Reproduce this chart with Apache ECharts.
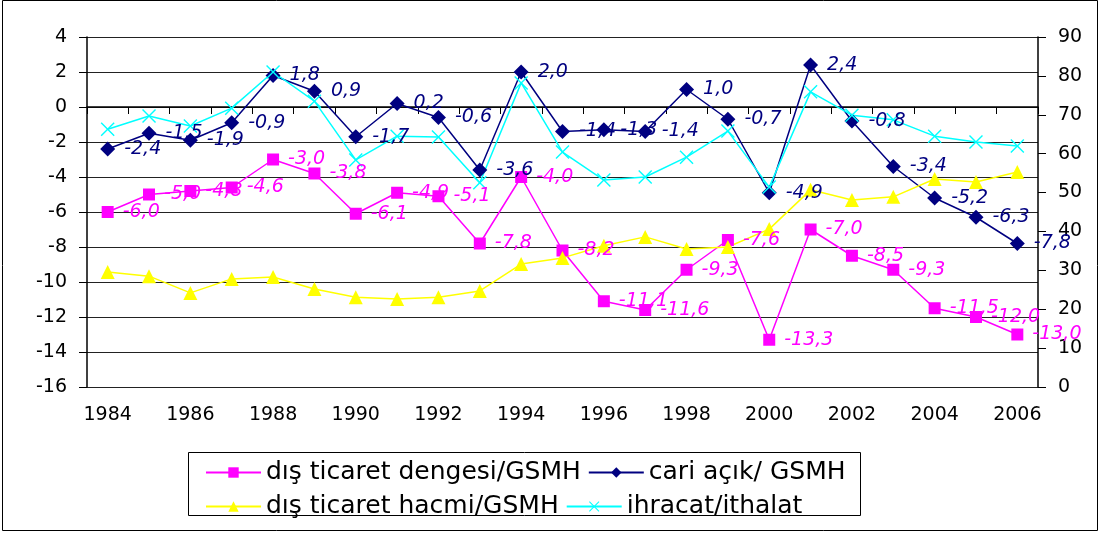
<!DOCTYPE html>
<html><head><meta charset="utf-8">
<script src="https://cdn.jsdelivr.net/npm/echarts@6/dist/echarts.min.js"></script>
<style>html,body{margin:0;padding:0;background:#fff}#c{width:1101px;height:534px}</style>
</head><body><div id="c"></div>
<script>
const years = ['1984','1985','1986','1987','1988','1989','1990','1991','1992','1993','1994','1995','1996','1997','1998','1999','2000','2001','2002','2003','2004','2005','2006'];
const disTicaretDengesi = [-6.0,-5.0,-4.8,-4.6,-3.0,-3.8,-6.1,-4.9,-5.1,-7.8,-4.0,-8.2,-11.1,-11.6,-9.3,-7.6,-13.3,-7.0,-8.5,-9.3,-11.5,-12.0,-13.0];
const cariAcik = [-2.4,-1.5,-1.9,-0.9,1.8,0.9,-1.7,0.2,-0.6,-3.6,2.0,-1.4,-1.3,-1.4,1.0,-0.7,-4.9,2.4,-0.8,-3.4,-5.2,-6.3,-7.8];
const disTicaretHacmi = [29.6,28.5,24.2,27.8,28.3,25.2,23.1,22.6,23.1,24.7,31.6,33.2,36.3,38.6,35.5,36.0,40.6,50.7,48.1,48.9,53.5,52.7,55.3];
const ihracatIthalat = [66.3,69.7,67.1,71.7,81.0,73.5,58.4,64.5,64.3,52.5,78.2,60.4,53.2,54.0,59.1,65.8,51.4,75.9,69.9,68.7,64.5,63.0,62.0];
const seriesNames = ['dış ticaret dengesi/GSMH','cari açık/ GSMH','dış ticaret hacmi/GSMH','ihracat/ithalat'];

const FONT = '"DejaVu Sans", Verdana, sans-serif';
const fmt = p => p.value.toFixed(1).replace('.', ',');
const xPath = 'path://M0,1L1,0L7,6L13,0L14,1L8,7L14,13L13,14L7,8L1,14L0,13L6,7Z';

const chart = echarts.init(document.getElementById('c'), null, {renderer:'canvas'});
chart.setOption({
  animation:false,
  backgroundColor:'#fff',
  textStyle:{fontFamily:FONT},
  grid:{left:87,right:63,top:37,bottom:147},
  xAxis:{type:'category',data:years,boundaryGap:true,
    axisLine:{lineStyle:{color:'#000',width:1.5}},
    axisTick:{show:true,interval:0,length:7,lineStyle:{color:'#000'}},
    axisLabel:{interval:1,color:'#000',fontSize:19,fontFamily:FONT,margin:19}},
  yAxis:[
    {type:'value',min:-16,max:4,interval:2,position:'left',
     axisLine:{show:true,lineStyle:{color:'#000',width:1.5}},
     axisTick:{show:true,length:8,lineStyle:{color:'#000'}},
     axisLabel:{color:'#000',fontSize:19,fontFamily:FONT,margin:20},
     splitLine:{show:true,lineStyle:{color:'#222',width:1.2}}},
    {type:'value',min:0,max:90,interval:10,position:'right',
     axisLine:{show:true,lineStyle:{color:'#000',width:1.5}},
     axisTick:{show:true,length:8,lineStyle:{color:'#000'}},
     axisLabel:{color:'#000',fontSize:19,fontFamily:FONT,margin:20},
     splitLine:{show:false}}
  ],
  legend:[
    {data:[seriesNames[0],seriesNames[1]],left:200,top:455,itemWidth:55,itemHeight:13,itemGap:7,
     textStyle:{fontSize:25,fontFamily:FONT,color:'#000',width:305}},
    {data:[seriesNames[2],seriesNames[3]],left:200,top:489,itemWidth:55,itemHeight:13,itemGap:7,
     textStyle:{fontSize:25,fontFamily:FONT,color:'#000',width:305}}
  ],
  graphic:[
    {type:'rect',shape:{x:188.5,y:452.5,width:672,height:63},style:{fill:'none',stroke:'#000',lineWidth:1},silent:true},
    {type:'rect',shape:{x:2.5,y:0.5,width:1095,height:530},style:{fill:'none',stroke:'#000',lineWidth:1},silent:true}
  ],
  series:[
    {name:seriesNames[0],type:'line',data:disTicaretDengesi,yAxisIndex:0,symbol:'rect',symbolSize:12,
     lineStyle:{color:'#FF00FF',width:1.5},itemStyle:{color:'#FF00FF'},
     label:{show:true,position:'right',distance:9,formatter:fmt,color:'#FF00FF',fontSize:19,fontStyle:'italic',fontFamily:FONT}},
    {name:seriesNames[1],type:'line',data:cariAcik,yAxisIndex:0,symbol:'diamond',symbolSize:15,
     lineStyle:{color:'#000080',width:1.5},itemStyle:{color:'#000080'},
     label:{show:true,position:'right',distance:9,formatter:fmt,color:'#000080',fontSize:19,fontStyle:'italic',fontFamily:FONT}},
    {name:seriesNames[2],type:'line',data:disTicaretHacmi,yAxisIndex:1,symbol:'triangle',symbolSize:14,
     lineStyle:{color:'#FFFF00',width:1.5},itemStyle:{color:'#FFFF00'}},
    {name:seriesNames[3],type:'line',data:ihracatIthalat,yAxisIndex:1,symbol:xPath,symbolSize:14,
     lineStyle:{color:'#00FFFF',width:1.5},itemStyle:{color:'#00FFFF'}}
  ]
});
</script></body></html>
